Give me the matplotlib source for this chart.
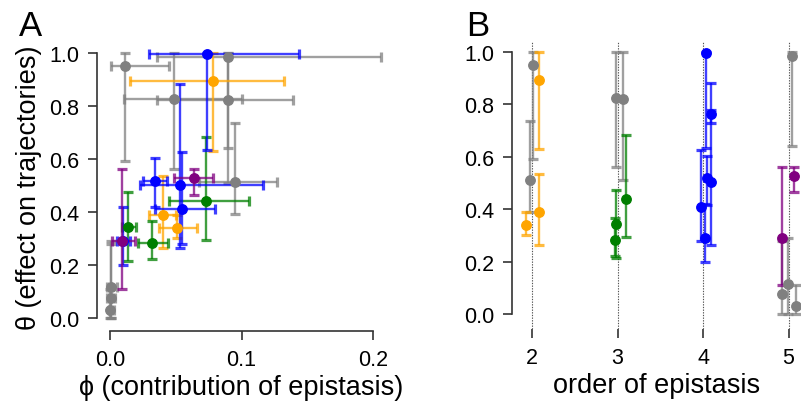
import numpy as np
import matplotlib
matplotlib.use("Agg")
import matplotlib.pyplot as plt

plt.rcParams['font.family'] = ['Liberation Sans', 'DejaVu Sans']

# one entry per estimate: colour group, phi with interval, theta with interval,
# and the (jittered) order of epistasis it belongs to
group = ['gray', 'gray', 'gray', 'gray', 'gray', 'gray', 'gray', 'gray',
         'orange', 'orange', 'orange',
         'green', 'green', 'green',
         'blue', 'blue', 'blue', 'blue', 'blue', 'blue',
         'purple', 'purple']
phi = [0.0115, 0.095, 0.049, 0.0895, 0.090, 0.001, 0.0005, 0.0,
       0.078, 0.040, 0.051,
       0.073, 0.0137, 0.032,
       0.074, np.nan, 0.034, 0.053, 0.055, 0.010,
       0.064, 0.009]
phi_lo = [0.001, 0.068, 0.0106, 0.036, 0.036, -0.002, -0.002, -0.001,
          0.015, 0.030, 0.037,
          0.045, 0.009, 0.021,
          0.030, np.nan, 0.025, 0.023, 0.034, 0.005,
          0.049, 0.0015]
phi_hi = [0.045, 0.127, 0.100, 0.139, 0.206, 0.005, 0.004, 0.003,
          0.132, 0.050, 0.066,
          0.106, 0.020, 0.044,
          0.144, np.nan, 0.043, 0.116, 0.080, 0.015,
          0.078, 0.019]
theta = [0.95, 0.513, 0.825, 0.82, 0.985, 0.115, 0.075, 0.03,
         0.893, 0.388, 0.338,
         0.44, 0.342, 0.284,
         0.996, 0.763, 0.518, 0.503, 0.41, 0.29,
         0.527, 0.29]
theta_lo = [0.59, 0.39, 0.56, 0.51, 0.64, 0.0, 0.0, 0.0,
            0.63, 0.265, 0.30,
            0.295, 0.215, 0.222,
            0.632, 0.728, 0.418, 0.265, 0.278, 0.198,
            0.464, 0.11]
theta_hi = [1.0, 0.735, 1.0, 1.0, 1.0, 0.29, 0.28, 0.11,
            1.0, 0.535, 0.388,
            0.683, 0.475, 0.365,
            1.0, 0.777, 0.604, 0.88, 0.627, 0.42,
            0.562, 0.562]
order_x = [2.01, 1.98, 2.98, 3.06, 5.035, 4.99, 4.92, 5.09,
           2.08, 2.08, 1.93,
           3.10, 2.98, 2.97,
           4.035, 4.09, 4.05, 4.09, 3.98, 4.02,
           5.06, 4.92]

orders = [2, 3, 4, 5]

palette = {'gray': '#808080', 'orange': '#FFA500', 'green': '#007F00',
           'blue': '#0000FF', 'purple': '#800080'}
axis_col = '#333333'

fig = plt.figure(figsize=(8.01, 4.02), dpi=100)
ax_a = fig.add_axes([97 / 801, 70 / 402, 288 / 801, 289 / 402])
ax_b = fig.add_axes([512 / 801, 72 / 402, 289 / 801, 287.5 / 402])


def draw_point(ax, x, y, xerr, yerr, col):
    ax.errorbar(x, y, xerr=xerr, yerr=yerr, fmt='none', ecolor=col,
                elinewidth=1.7, capsize=3.6, capthick=2.3, alpha=0.75,
                clip_on=False)
    ax.plot(x, y, 'o', color=col, ms=6.8, mec=col, clip_on=False, zorder=3)


for i in range(len(theta)):
    col = palette[group[i]]
    yerr = [[theta[i] - theta_lo[i]], [theta_hi[i] - theta[i]]]
    if not np.isnan(phi[i]):
        xerr = [[phi[i] - phi_lo[i]], [phi_hi[i] - phi[i]]]
        draw_point(ax_a, phi[i], theta[i], xerr, yerr, col)
    draw_point(ax_b, order_x[i], theta[i], None, yerr, col)

for o in orders:
    ax_b.axvline(o, color='#555555', ls=(0, (1.2, 1.2)), lw=0.8, zorder=0)

yticks = [0.0, 0.2, 0.4, 0.6, 0.8, 1.0]

ax_a.set_xlim(-0.0099, 0.209)
ax_a.set_ylim(-0.049, 1.04)
ax_a.set_xticks([0.0, 0.1, 0.2])
ax_a.set_xticklabels(['0.0', '0.1', '0.2'])
ax_a.spines['bottom'].set_bounds(0, 0.2)
ax_a.set_xlabel('ϕ (contribution of epistasis)', fontsize=19.5, labelpad=3)
ax_a.set_ylabel('θ (effect on trajectories)', fontsize=19.5, labelpad=5)

ax_b.set_xlim(1.766, 5.146)
ax_b.set_ylim(-0.057, 1.04)
ax_b.set_xticks(orders)
ax_b.spines['bottom'].set_visible(False)
ax_b.set_xlabel('order of epistasis', fontsize=19.5, labelpad=3)

for ax in (ax_a, ax_b):
    ax.set_yticks(yticks)
    ax.set_yticklabels([f'{t:.1f}' for t in yticks])
    ax.spines['left'].set_bounds(0, 1)
    ax.spines['top'].set_visible(False)
    ax.spines['right'].set_visible(False)
    for s in ('left', 'bottom'):
        ax.spines[s].set_color(axis_col)
        ax.spines[s].set_linewidth(1.2)
    ax.tick_params(length=6.5, width=1.2, color=axis_col, labelsize=15.5,
                   pad=6.5)

fig.text(19 / 801, 1 - 36 / 402, 'A', fontsize=25)
fig.text(466 / 801, 1 - 36 / 402, 'B', fontsize=25)

fig.savefig('out.png', dpi=100)
